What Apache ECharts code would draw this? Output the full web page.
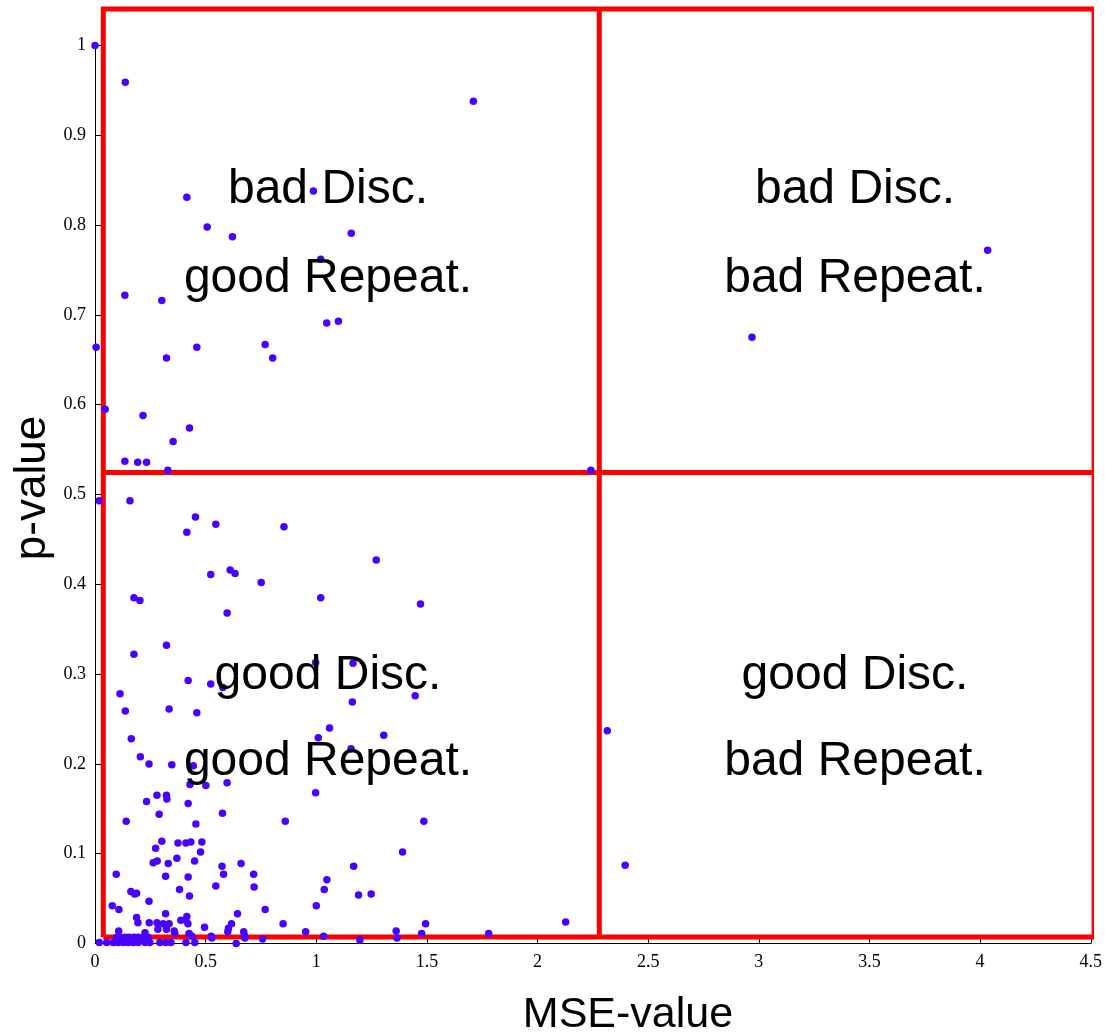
<!DOCTYPE html>
<html>
<head>
<meta charset="utf-8">
<script src="https://cdn.jsdelivr.net/npm/echarts@6/dist/echarts.min.js"></script>
<style>html,body{margin:0;padding:0;background:#fff;}#chart{width:1105px;height:1032px;}</style>
</head>
<body>
<div id="chart"></div>
<script>
// MSE-value / p-value pairs
const mseValues = [
  0.000,0.137,1.710,0.415,0.987,0.507,0.621,1.158,1.020,4.034,0.135,0.302,1.047,1.100,2.969,0.005,0.323,0.460,0.769,0.803,
  0.046,0.217,0.427,0.353,0.135,0.193,0.233,0.329,2.241,
  0.019,0.158,0.415,0.454,0.546,0.854,1.271,0.523,0.611,0.633,0.751,1.020,1.471,0.176,0.203,0.597,0.323,0.176,0.997,1.166,
  0.421,0.523,0.578,0.113,1.447,1.163,0.137,0.335,0.460,1.060,2.315,1.009,1.305,0.164,1.157,0.205,0.244,0.347,0.444,0.429,
  0.501,0.597,0.997,0.280,0.323,0.325,0.233,0.421,0.576,0.290,0.141,0.860,1.486,0.456,0.302,0.375,0.411,0.433,0.483,0.274,
  1.390,0.477,0.370,0.263,0.281,0.331,0.450,0.574,0.660,1.169,2.396,0.717,0.581,0.319,0.421,0.096,1.048,0.719,0.546,0.382,
  1.036,0.427,0.162,0.179,0.188,1.191,1.248,0.244,0.078,0.108,1.000,0.769,0.319,0.644,0.188,0.415,0.388,0.411,2.127,0.194,
  0.245,0.280,0.308,0.335,0.420,0.617,0.850,1.494,0.603,0.495,0.284,0.323,0.358,1.361,0.600,0.672,0.107,0.952,0.226,0.361,
  0.425,1.476,1.779,0.438,1.033,0.525,0.675,0.098,0.115,0.135,0.155,0.176,0.196,0.217,0.240,0.678,0.528,1.365,0.757,1.197,
  0.638,0.019,0.053,0.083,0.105,0.128,0.150,0.173,0.195,0.226,0.248,0.293,0.320,0.343,0.411,0.451
];
const pValues = [
  1.000,0.959,0.938,0.831,0.838,0.798,0.787,0.791,0.762,0.772,0.722,0.716,0.691,0.693,0.675,0.664,0.652,0.664,0.667,0.652,
  0.595,0.588,0.574,0.559,0.537,0.536,0.536,0.527,0.527,
  0.493,0.493,0.458,0.475,0.467,0.464,0.427,0.411,0.416,0.412,0.402,0.385,0.378,0.385,0.382,0.368,0.332,0.322,0.313,0.312,
  0.293,0.289,0.285,0.278,0.276,0.269,0.259,0.261,0.257,0.240,0.237,0.229,0.232,0.228,0.217,0.208,0.200,0.199,0.198,0.177,
  0.176,0.179,0.168,0.165,0.165,0.161,0.158,0.156,0.145,0.144,0.136,0.136,0.136,0.133,0.114,0.112,0.112,0.113,0.113,0.106,
  0.102,0.102,0.095,0.090,0.092,0.089,0.092,0.086,0.089,0.086,0.087,0.077,0.077,0.075,0.074,0.077,0.071,0.063,0.064,0.060,
  0.060,0.053,0.058,0.055,0.056,0.054,0.055,0.047,0.042,0.038,0.042,0.038,0.033,0.033,0.029,0.030,0.026,0.026,0.024,0.023,
  0.023,0.023,0.022,0.022,0.022,0.022,0.022,0.022,0.017,0.018,0.016,0.016,0.014,0.014,0.013,0.013,0.014,0.013,0.012,0.011,
  0.011,0.011,0.011,0.008,0.008,0.008,0.009,0.007,0.007,0.007,0.007,0.007,0.007,0.007,0.007,0.006,0.006,0.006,0.005,0.004,
  0.000,0.001,0.001,0.001,0.001,0.001,0.001,0.001,0.001,0.001,0.001,0.001,0.001,0.001,0.001,0.001
];
// Quadrant boundaries (data units)
const boxX = [0.0375, 2.279, 4.515];   // left, divider, right
const boxY = [0.0072, 0.5245, 1.0406]; // bottom, divider, top
const quadrantLabels = [
  ['bad Disc.', 'good Repeat.'],
  ['bad Disc.', 'bad Repeat.'],
  ['good Disc.', 'good Repeat.'],
  ['good Disc.', 'bad Repeat.']
];
const xTitle = 'MSE-value';
const yTitle = 'p-value';

const points = mseValues.map((x, i) => [x, pValues[i]]);
const L = boxX[0], M = boxX[1], R = boxX[2];
const B = boxY[0], C = boxY[1], T = boxY[2];
const redStyle = { color: '#ff0000', width: 5, join: 'miter', cap: 'butt' };
const redLine = (data) => ({
  type: 'line', data, symbol: 'none', clip: false, silent: true, z: 2,
  lineStyle: redStyle, animation: false
});

const labelFont = '48px "Liberation Sans", Arial, sans-serif';
const qPos = [[328, 190, 279], [855, 190, 279], [328, 676, 762], [855, 676, 762]];
const graphics = [];
quadrantLabels.forEach((lines, i) => {
  lines.forEach((t, j) => {
    graphics.push({
      type: 'text', x: qPos[i][0], y: qPos[i][1 + j], z: 100,
      style: { text: t, font: labelFont, fill: '#000', textAlign: 'center', textVerticalAlign: 'middle' }
    });
  });
});
graphics.push({
  type: 'text', x: 628, y: 1015, z: 100,
  style: { text: xTitle, font: '43px "Liberation Sans", Arial, sans-serif', fill: '#000', textAlign: 'center', textVerticalAlign: 'middle' }
});
graphics.push({
  type: 'text', x: 33, y: 488, rotation: Math.PI / 2, z: 100,
  style: { text: yTitle, font: '44px "Liberation Sans", Arial, sans-serif', fill: '#000', textAlign: 'center', textVerticalAlign: 'middle' }
});

const axisCommon = {
  type: 'value',
  splitLine: { show: false },
  axisLine: { show: true, onZero: false, lineStyle: { color: '#000', width: 1 } },
  axisTick: { show: true, inside: true, length: 7, lineStyle: { color: '#000', width: 1 } },
  axisLabel: { color: '#000', fontFamily: '"Liberation Serif", "Times New Roman", serif', fontSize: 18 }
};

const chart = echarts.init(document.getElementById('chart'), null, { renderer: 'canvas' });
chart.setOption({
  animation: false,
  backgroundColor: '#ffffff',
  grid: { left: 95, right: 12, top: 45.5, bottom: 88.5, containLabel: false },
  xAxis: Object.assign({}, axisCommon, { min: 0, max: 4.5, interval: 0.5,
    axisLabel: Object.assign({}, axisCommon.axisLabel, { margin: 10 }) }),
  yAxis: Object.assign({}, axisCommon, { min: 0, max: 1, interval: 0.1,
    axisLabel: Object.assign({}, axisCommon.axisLabel, { margin: 9 }) }),
  graphic: graphics,
  series: [
    redLine([[L, B], [R, B], [R, T], [L, T], [L, B]]),
    redLine([[M, B], [M, T]]),
    redLine([[L, C], [R, C]]),
    {
      type: 'scatter', data: points, symbol: 'circle', symbolSize: 7.5, clip: false, z: 5,
      itemStyle: { color: '#4a00ff', opacity: 1 }
    }
  ]
});
</script>
</body>
</html>
